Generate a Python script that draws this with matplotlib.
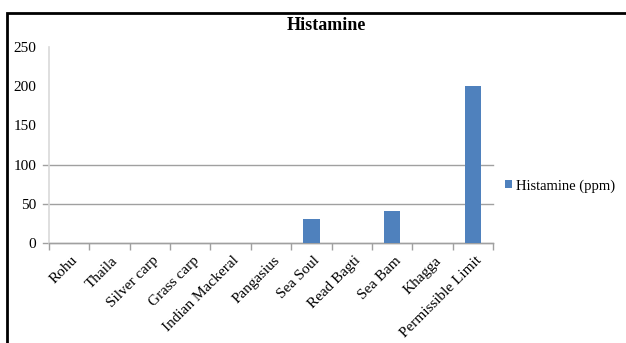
import numpy as np
import matplotlib
matplotlib.use('Agg')
import matplotlib.pyplot as plt
from matplotlib.patches import Rectangle

# Data
fish = ['Rohu', 'Thaila', 'Silver carp', 'Grass carp', 'Indian Mackeral',
        'Pangasius', 'Sea Soul', 'Read Bagti', 'Sea Bam', 'Khagga',
        'Permissible Limit']
histamine = [0, 0, 0, 0, 0, 0, 31, 0, 41, 0, 200]
y_ticks = [0, 50, 100, 150, 200, 250]
grid_values = [0, 50, 100]

BLUE = '#4F81BD'


def main():
  plt.rcParams['font.family'] = ['Liberation Serif', 'DejaVu Serif']

  fig = plt.figure(figsize=(6.26, 3.43), dpi=100)
  ax = fig.add_axes([0.078, 0.2915, 0.71, 0.5715])

  x = np.arange(len(fish))
  ax.bar(x, histamine, width=0.4, color=BLUE, label='Histamine (ppm)', zorder=3)

  ax.set_xlim(-0.5, len(fish) - 0.5)
  ax.set_ylim(0, 250)
  ax.set_yticks(y_ticks)
  ax.set_yticklabels([str(v) for v in y_ticks], fontsize=11)
  ax.tick_params(axis='y', length=0, pad=9)

  # category boundary ticks on the x axis
  ax.set_xticks(np.arange(len(fish) + 1) - 0.5, minor=False)
  ax.set_xticklabels([''] * (len(fish) + 1))
  ax.tick_params(axis='x', length=5, color='#a0a0a0', width=1)
  for i, name in enumerate(fish):
    ax.text(i + 0.05, -14, name, rotation=45, ha='right', va='top',
            rotation_mode='anchor', fontsize=11, transform=ax.transData,
            clip_on=False)

  # horizontal grid lines (only 50 and 100 appear), sticking out a bit left
  for v in grid_values:
    ax.axhline(v, xmin=-0.013, xmax=1, color='#a0a0a0', lw=1, clip_on=False,
               zorder=1)

  for s in ['top', 'right']:
    ax.spines[s].set_visible(False)
  ax.spines['left'].set_color('#d9d9d9')
  ax.spines['left'].set_linewidth(1.2)
  ax.spines['bottom'].set_color('#a0a0a0')
  ax.spines['bottom'].set_linewidth(1)

  fig.text(0.522, 0.925, 'Histamine', ha='center', va='center',
           fontsize=13, fontweight='bold')

  fig.legend(loc='center left', bbox_to_anchor=(0.807, 0.458), frameon=False,
             fontsize=10.5, handlelength=0.45, handleheight=0.45,
             handletextpad=0.3, borderpad=0, borderaxespad=0)

  # outer frame of the chart area
  fig.patches.append(Rectangle((7 / 626, -0.05), 1.0, 1 - 13 / 343 + 0.05,
                               transform=fig.transFigure, fill=False,
                               edgecolor='black', lw=2))

  fig.savefig('out.png', dpi=100)


if __name__ == '__main__':
  main()
